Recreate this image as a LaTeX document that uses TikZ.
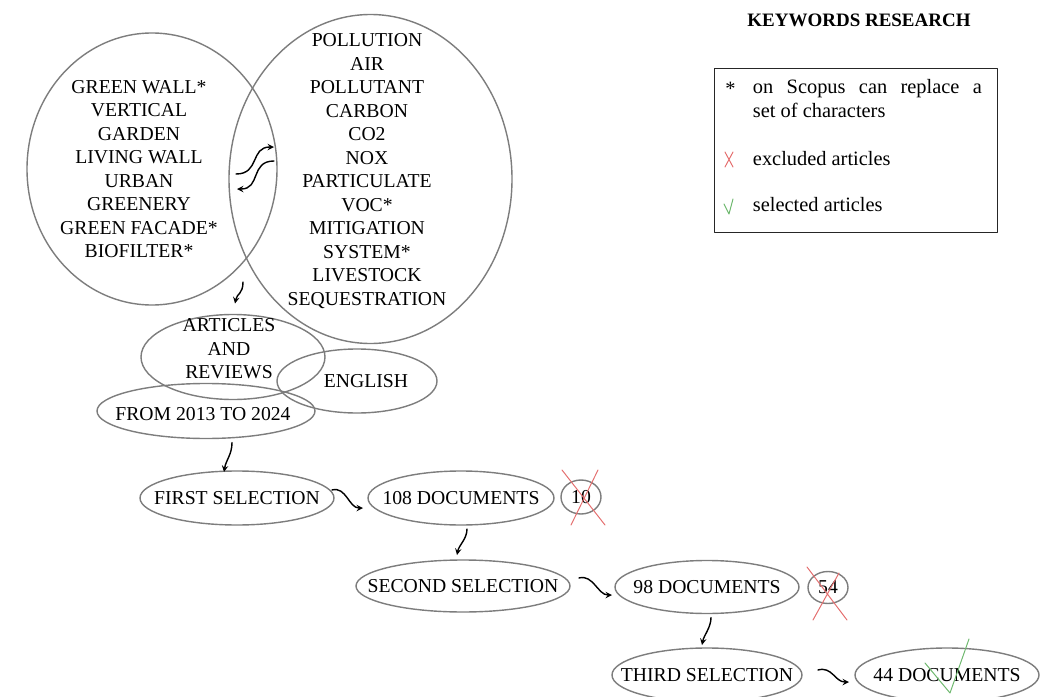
\documentclass[tikz,border=0pt]{standalone}
\usepackage{fontspec}
\setmainfont{Liberation Serif}
\usetikzlibrary{shapes.geometric}
\definecolor{ringgray}{RGB}{125,125,125}
\definecolor{crossred}{RGB}{228,110,110}
\definecolor{tickgreen}{RGB}{110,184,110}
\tikzset{
  ring/.style 2 args={ellipse, draw=ringgray, line width=1pt, inner sep=0pt, outer sep=0pt,
    minimum width=#1*0.025cm, minimum height=#2*0.025cm},
  words/.style={inner sep=0pt, align=center, font=\fontsize{14}{16.7}\selectfont},
  note/.style={inner sep=0pt, font=\fontsize{14.5}{17}\selectfont},
  flow/.style={->, line width=1pt},
  cross/.style={draw=crossred, line width=0.7pt},
  tick/.style={draw=tickgreen, line width=0.7pt}
}
\begin{document}
\begin{tikzpicture}[x=0.025cm, y=-0.025cm, >=stealth, line join=round, line cap=round]
  \useasboundingbox (0,0) rectangle (1048,697);
  % keyword sets
  \node[ring={250}{272}] (green) at (152,169) {};
  \node[ring={283}{329}] (pollution) at (370.5,179) {};
  \node[words] (greentext) at (139,169) {GREEN WALL*\\VERTICAL\\GARDEN\\LIVING WALL\\URBAN\\GREENERY\\GREEN FACADE*\\BIOFILTER*};
  \node[words] (pollutiontext) at (367,171) {POLLUTION\\AIR\\POLLUTANT\\CARBON\\CO2\\NOX\\PARTICULATE\\VOC*\\MITIGATION\\SYSTEM*\\LIVESTOCK\\SEQUESTRATION};
  \coordinate (swapa) at (236,174);
  \coordinate (swapb) at (274,147);
  \coordinate (swapc) at (274,161);
  \coordinate (swapd) at (237,189);
  \draw[flow] (swapa) .. controls +(24,0) and +(-24,0) .. (swapb);
  \draw[flow] (swapc) .. controls +(-24,0) and +(24,0) .. (swapd);
  % filters
  \node[ring={184}{85}] (articles) at (233,357) {};
  \node[ring={160}{64}] (english) at (357,381) {};
  \node[ring={218}{55}] (years) at (206,411) {};
  \node[words] (articlestext) at (229,349) {ARTICLES\\AND\\REVIEWS};
  \node[words] (englishtext) at (366,381) {ENGLISH};
  \node[words] (yearstext) at (203,414) {FROM 2013 TO 2024};
  \coordinate (drop) at (243,282);
  \draw[flow] (drop) .. controls +(0,12) and +(2,-10) .. ([shift={(2,-11)}]articles.north);
  % selections
  \node[ring={194}{54}] (first) at (237,498) {};
  \node[words] (firsttext) at (first) {FIRST SELECTION};
  \node[ring={186}{54}] (docs108) at (461,498) {};
  \node[words] (docs108text) at (docs108) {108 DOCUMENTS};
  \node[ring={40}{34}] (out10) at (581,497) {};
  \node[words] (out10text) at (out10) {10};
  \node[ring={214}{52}] (second) at (463,586) {};
  \node[words] (secondtext) at (second) {SECOND SELECTION};
  \node[ring={184}{53}] (docs98) at (707,587) {};
  \node[words] (docs98text) at (docs98) {98 DOCUMENTS};
  \node[ring={40}{32}] (out54) at (828,587.5) {};
  \node[words] (out54text) at (out54) {54};
  \node[ring={190}{54}] (third) at (707,675) {};
  \node[words] (thirdtext) at (third) {THIRD SELECTION};
  \node[ring={184}{54}] (docs44) at (947,675) {};
  \node[words] (docs44text) at (docs44) {44 DOCUMENTS};
  \draw[flow] ([shift={(26,4)}]years.south) .. controls +(0,12) and +(2,-12) .. ([shift={(-13,1)}]first.north);
  \draw[flow] ([shift={(-2,-8)}]first.east) .. controls +(14,-4) and +(-14,0) .. ([shift={(-5,10)}]docs108.west);
  \draw[flow] ([shift={(6,4)}]docs108.south) .. controls +(0,10) and +(2,-10) .. ([shift={(-6,-5)}]second.north);
  \draw[flow] ([shift={(9,-8)}]second.east) .. controls +(14,-4) and +(-14,0) .. ([shift={(-3,8)}]docs98.west);
  \draw[flow] ([shift={(4,4)}]docs98.south) .. controls +(0,10) and +(2,-10) .. ([shift={(-5,-3)}]third.north);
  \draw[flow] ([shift={(16,-5)}]third.east) .. controls +(14,-4) and +(-14,0) .. ([shift={(-6,7)}]docs44.west);
  \draw[cross] (562,470) -- (605,525) (598,470) -- (571,525);
  \draw[cross] (807,567) -- (847,620) (839,573) -- (813,620);
  \draw[tick] (925,663) -- (950,693) -- (969,639);
  % legend
  \node[inner sep=0pt, font=\bfseries\fontsize{13.5}{16}\selectfont, anchor=base] (title) at (859,27) {KEYWORDS RESEARCH};
  \node[draw=black!85, line width=0.8pt, inner sep=0pt, minimum width=7.075cm, minimum height=4.1cm, anchor=north west] (legend) at (714,68) {};
  \node[note, anchor=base west] (star) at (725,95) {*};
  \node[note, anchor=base west] (scopus) at (752.7,93.3) {\makebox[5.72cm][s]{on Scopus can replace a}};
  \node[note, anchor=base west] (charset) at (752.7,117.3) {set of characters};
  \draw[cross] (725,152) -- (733,167) (733,152) -- (725,167);
  \node[note, anchor=base west] (excluded) at (752.7,165) {excluded articles};
  \draw[tick] (724,204) -- (729,214) -- (733,199);
  \node[note, anchor=base west] (selected) at (752.7,211.7) {selected articles};
\end{tikzpicture}
\end{document}
